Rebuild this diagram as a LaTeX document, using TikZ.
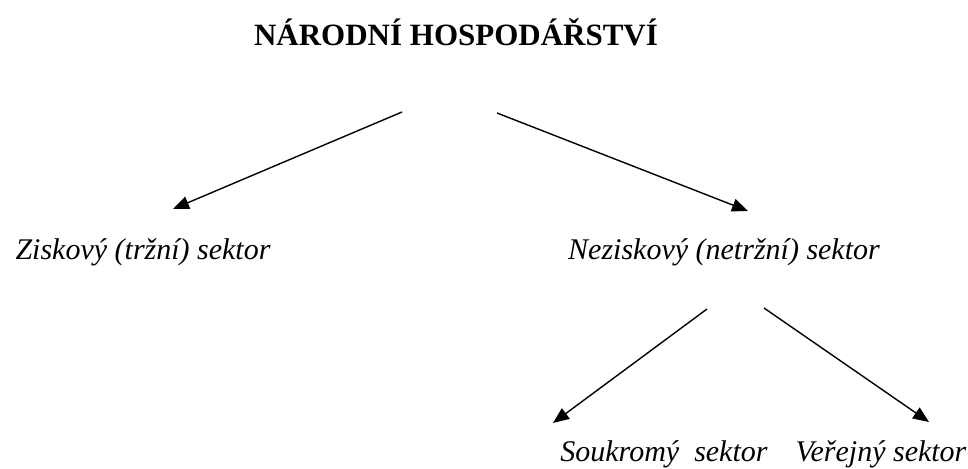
\documentclass[tikz,border=0pt]{standalone}
\usepackage{fontspec}
\setmainfont{Liberation Serif}
\usetikzlibrary{arrows.meta}

\begin{document}
\begin{tikzpicture}[x=1pt, y=-1pt,
    sektor/.style={font=\fontsize{30}{36}\selectfont\itshape, anchor=base},
    sipka/.style={-{Triangle[length=16pt,width=13pt]}, line width=1.4pt}]
    \useasboundingbox (0,0) rectangle (968,468);
    \node[font=\fontsize{31}{37}\selectfont\bfseries, anchor=base] (narod) at (456,46) {NÁRODNÍ HOSPODÁŘSTVÍ};
    \node[sektor] (zisk) at (143,259) {Ziskový (tržní) sektor};
    \node[sektor] (nezisk) at (724,259) {Neziskový (netržní) sektor};
    \node[sektor] (soukr) at (664,461) {Soukromý\ \ sektor};
    \node[sektor] (verej) at (881,461) {Veřejný sektor};
    % start points of the arrows
    \coordinate (A) at (402,112);
    \coordinate (B) at (497,113);
    \coordinate (C) at (707,309);
    \coordinate (D) at (764,308);
    % tips
    \coordinate (zisk-k) at (173,209);
    \coordinate (nezisk-k) at (748,211);
    \coordinate (soukr-k) at (553,423);
    \coordinate (verej-k) at (929,422);
    \draw[sipka] (A) -- (zisk-k);
    \draw[sipka] (B) -- (nezisk-k);
    \draw[sipka] (C) -- (soukr-k);
    \draw[sipka] (D) -- (verej-k);
\end{tikzpicture}
\end{document}
